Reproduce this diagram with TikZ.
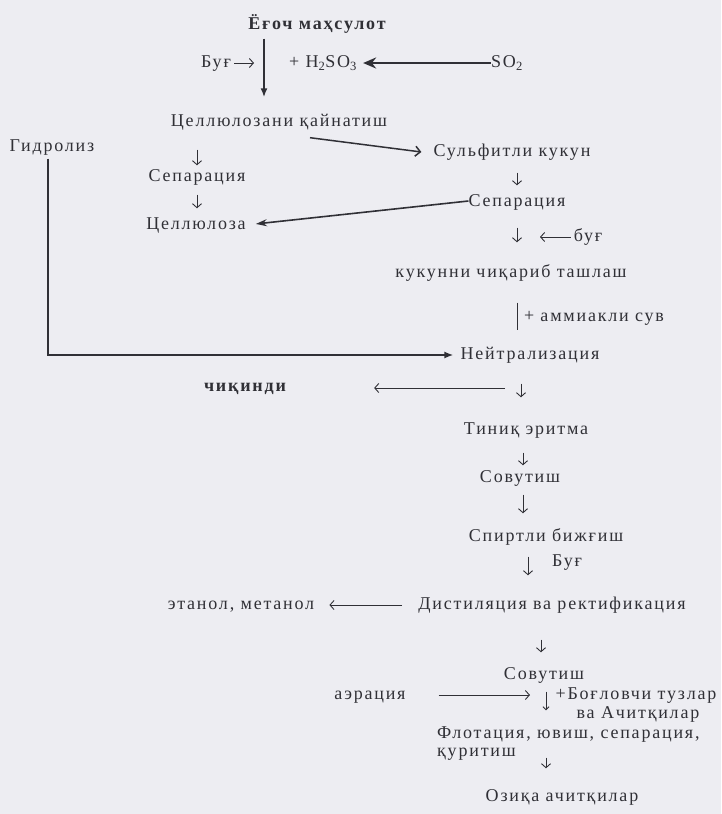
\documentclass[tikz,border=0pt]{standalone}
\usepackage{fontspec}
\setmainfont{Liberation Serif}[LetterSpace=10]
\usetikzlibrary{arrows.meta,calc}
\definecolor{bg}{RGB}{237,237,242}
\definecolor{ink}{RGB}{48,48,54}
\begin{document}
\begin{tikzpicture}[x=1pt,y=-1pt,
  lab/.style={inner sep=0pt, text=ink, font=\fontsize{18}{20}\selectfont, text height=13pt, text depth=4pt},
  tlab/.style={lab, text height=12pt, text depth=3pt},
  blab/.style={lab, font=\fontsize{18}{20}\selectfont\bfseries},
  glyph/.style={draw=ink, line width=0.9pt, -{Straight Barb[length=4pt,width=9pt]}},
  smallglyph/.style={draw=ink, line width=0.8pt, -{Straight Barb[length=3pt,width=6pt]}},
  barline/.style={draw=ink, line width=1pt},
  thickarr/.style={draw=ink, line width=2pt, line join=miter, -{Latex[length=9pt,width=7pt]}},
  bigarr/.style={draw=ink, line width=2.2pt, -{Stealth[length=13pt,width=11pt]}},
  medarr/.style={draw=ink, line width=1.5pt, -{Straight Barb[length=5pt,width=10pt]}},
  fillarr/.style={draw=ink, line width=1.6pt, -{Stealth[length=11pt,width=7pt]}}
]
\fill[bg] (0,0) rectangle (721,814);
\useasboundingbox (0,0) rectangle (721,814);

% nodes
\node[blab] (title) at (317,25) {Ёғоч маҳсулот};
\node[lab]  (bugA)  at (216,63) {Буғ};
\node[lab]  (h2so3) at (323,63) {+ H\textsubscript{2}SO\textsubscript{3}};
\node[lab]  (so2)   at (507,63) {SO\textsubscript{2}};
\node[lab]  (cel1)  at (279,122) {Целлюлозани қайнатиш};
\node[lab]  (gid)   at (52,147) {Гидролиз};
\node[lab]  (sep1)  at (197,177) {Сепарация};
\node[lab]  (cel2)  at (196,225) {Целлюлоза};
\node[lab]  (sulf)  at (512,152) {Сульфитли кукун};
\node[lab]  (sep2)  at (517,202) {Сепарация};
\node[lab]  (bugB)  at (588,237) {буғ};
\node[lab]  (kuk)   at (511,273) {кукунни чиқариб ташлаш};
\node[lab]  (amm)   at (594,317) {+ аммиакли сув};
\node[lab]  (neut)  at (530,355) {Нейтрализация};
\node[blab] (chiq)  at (245,387) {чиқинди};
\node[lab]  (tin)   at (526,430) {Тиниқ эритма};
\node[lab]  (sov1)  at (520,478) {Совутиш};
\node[lab]  (spirt) at (546,537) {Спиртли бижғиш};
\node[lab]  (bugC)  at (567,562) {Буғ};
\node[lab]  (dist)  at (552,605) {Дистиляция ва ректификация};
\node[lab]  (etan)  at (241,605) {этанол, метанол};
\node[lab]  (sov2)  at (544,675) {Совутиш};
\node[tlab] (aer)   at (370,695) {аэрация};
\node[tlab] (bog1)  at (636,695) {+Боғловчи тузлар};
\node[tlab] (bog2)  at (638,714) {ва Ачитқилар};
\node[tlab, anchor=west] (flot1) at (437,734) {Флотация, ювиш, сепарация,};
\node[tlab, anchor=west] (flot2) at (437,752) {қуритиш};
\node[lab]  (oziq)  at (562,797) {Озиқа ачитқилар};

\coordinate (vx) at (264,0);
\coordinate (fx) at (546,0);
\coordinate (wst) at (505,388);

% connectors
\draw[thickarr, shorten <=5pt, shorten >=16pt] (title.south -| vx) -- (cel1.north -| vx);
\draw[glyph, shorten <=3pt, shorten >=10pt] (bugA.east) -- (bugA.east -| vx);
\draw[bigarr, shorten >=6pt] (so2.west) -- (h2so3.east);
\draw[medarr] ([shift={(31,7)}]cel1.south) -- ([shift={(-12,0)}]sulf.west);
\draw[fillarr, shorten >=10pt] ([shift={(0,-1)}]sep2.west) -- (cel2.east);
\draw[glyph, shorten <=19pt, shorten >=3pt] (sep1.north |- cel1.south) -- (sep1.north);
\draw[glyph, shorten <=9pt, shorten >=8pt] (sep1.south) -- (cel2.north -| sep1.south);
\draw[glyph, shorten <=12pt, shorten >=8pt] (sep2.north |- sulf.south) -- (sep2.north);
\draw[glyph, shorten <=17pt, shorten >=22pt] (sep2.south) -- (sep2.south |- kuk.north);
\draw[glyph, shorten <=3pt, shorten >=23pt] (bugB.west) -- (bugB.west -| sep2.south);
\draw[barline, shorten <=21pt, shorten >=16pt] (sep2.south |- kuk.south) -- (sep2.south |- neut.north);
\draw[thickarr, shorten <=3pt, shorten >=7pt] ([shift={(-4,0)}]gid.south) -- ([shift={(-4,0)}]gid.south |- neut.west) -- (neut.west);
\draw[glyph, shorten <=20pt, shorten >=24pt] ([shift={(-9,0)}]neut.south) -- ([shift={(-9,0)}]neut.south |- tin.north);
\draw[glyph, shorten >=88pt] (wst) -- (wst -| chiq.east);
\draw[glyph, shorten <=14pt, shorten >=4pt] ([shift={(-3,0)}]tin.south) -- ([shift={(-3,0)}]tin.south |- sov1.north);
\draw[glyph, shorten <=8pt, shorten >=15pt] ([shift={(3,0)}]sov1.south) -- ([shift={(3,0)}]sov1.south |- spirt.north);
\draw[glyph, shorten <=11pt, shorten >=21pt] ([shift={(-18,0)}]spirt.south) -- ([shift={(-18,0)}]spirt.south |- dist.north);
\draw[glyph, shorten <=16pt, shorten >=15pt] (dist.west) -- (etan.east);
\draw[glyph, shorten <=26pt, shorten >=14pt] ([shift={(-11,0)}]dist.south) -- ([shift={(-11,0)}]dist.south |- sov2.north);
\draw[smallglyph, shorten <=8pt, shorten >=16pt] (sov2.south -| fx) -- (flot1.north -| fx);
\draw[glyph, shorten <=33pt, shorten >=16pt] (aer.east) -- (aer.east -| fx);
\draw[glyph, shorten <=-2pt, shorten >=20pt] (flot2.south -| fx) -- (oziq.north -| fx);
\end{tikzpicture}
\end{document}
